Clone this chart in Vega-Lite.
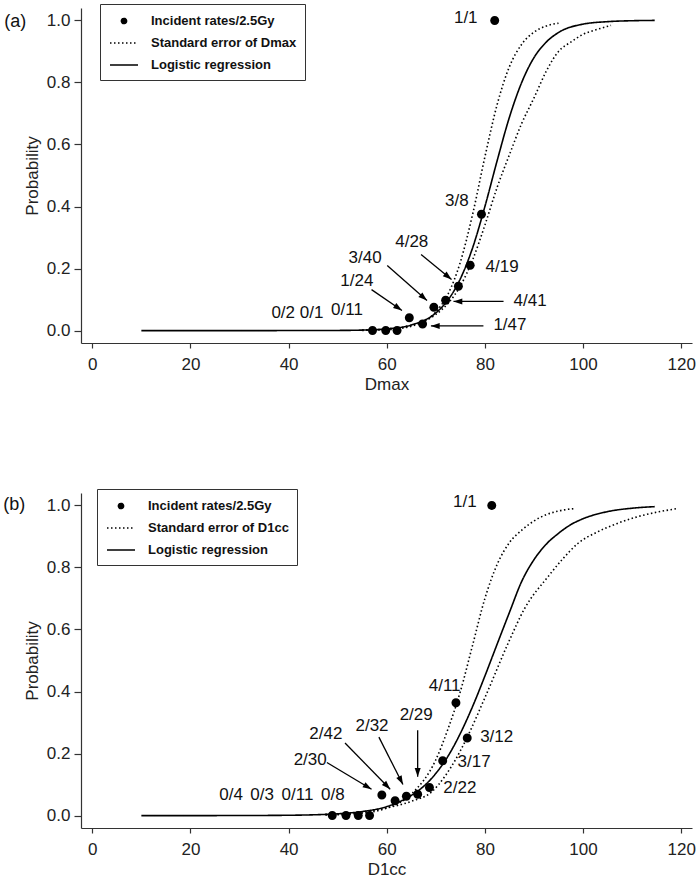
{
"$schema":"https://vega.github.io/schema/vega-lite/v6.json",
"padding":{"left":3,"top":3,"right":5,"bottom":2},
"background":"white",
"spacing":150,
"bounds":"flush",
"config":{
 "view":{"stroke":null},
 "font":"Liberation Sans",
 "axis":{"grid":false,"domainColor":"#333","domainWidth":1.2,"tickColor":"#333","tickWidth":1.2,"labelFont":"Liberation Sans","labelFontSize":17,"labelColor":"#222","titleFont":"Liberation Sans","titleFontSize":17,"titleFontWeight":"normal","titleColor":"#222"},
 "axisX":{"tickSize":5,"labelPadding":8,"titlePadding":4},
 "axisY":{"tickSize":7,"labelPadding":4,"titlePadding":5},
 "legend":{"title":null,"orient":"none","legendX":19,"legendY":-4,"padding":8,"strokeColor":"#333","fillColor":"white","labelFont":"Liberation Sans","labelFontSize":13,"labelFontWeight":"bold","labelColor":"#111","symbolOffset":7,"labelOffset":18,"rowPadding":6,"symbolSize":256,"symbolStrokeWidth":1.6,"symbolStrokeColor":"black","symbolFillColor":"black"}
},
"datasets":{
 "curvesA":[
  {"dose":10,"p":0,"curve":"fit","series":"Logistic regression"},
  {"dose":20,"p":0,"curve":"fit","series":"Logistic regression"},
  {"dose":30,"p":0,"curve":"fit","series":"Logistic regression"},
  {"dose":40,"p":0.0001,"curve":"fit","series":"Logistic regression"},
  {"dose":50,"p":0.0005,"curve":"fit","series":"Logistic regression"},
  {"dose":55,"p":0.0016,"curve":"fit","series":"Logistic regression"},
  {"dose":60,"p":0.0054,"curve":"fit","series":"Logistic regression"},
  {"dose":65,"p":0.018,"curve":"fit","series":"Logistic regression"},
  {"dose":70,"p":0.057,"curve":"fit","series":"Logistic regression"},
  {"dose":72.5,"p":0.099,"curve":"fit","series":"Logistic regression"},
  {"dose":75,"p":0.167,"curve":"fit","series":"Logistic regression"},
  {"dose":77.5,"p":0.267,"curve":"fit","series":"Logistic regression"},
  {"dose":80,"p":0.40,"curve":"fit","series":"Logistic regression"},
  {"dose":82.5,"p":0.548,"curve":"fit","series":"Logistic regression"},
  {"dose":85,"p":0.688,"curve":"fit","series":"Logistic regression"},
  {"dose":87.5,"p":0.80,"curve":"fit","series":"Logistic regression"},
  {"dose":90,"p":0.88,"curve":"fit","series":"Logistic regression"},
  {"dose":92.5,"p":0.93,"curve":"fit","series":"Logistic regression"},
  {"dose":95,"p":0.961,"curve":"fit","series":"Logistic regression"},
  {"dose":100,"p":0.988,"curve":"fit","series":"Logistic regression"},
  {"dose":105,"p":0.996,"curve":"fit","series":"Logistic regression"},
  {"dose":110,"p":0.999,"curve":"fit","series":"Logistic regression"},
  {"dose":114.6,"p":1.0,"curve":"fit","series":"Logistic regression"},
  {"dose":55,"p":0.0007,"curve":"upper","series":"Standard error of Dmax"},
  {"dose":60,"p":0.003,"curve":"upper","series":"Standard error of Dmax"},
  {"dose":65,"p":0.014,"curve":"upper","series":"Standard error of Dmax"},
  {"dose":70,"p":0.06,"curve":"upper","series":"Standard error of Dmax"},
  {"dose":72.5,"p":0.118,"curve":"upper","series":"Standard error of Dmax"},
  {"dose":75,"p":0.221,"curve":"upper","series":"Standard error of Dmax"},
  {"dose":77.5,"p":0.375,"curve":"upper","series":"Standard error of Dmax"},
  {"dose":80,"p":0.56,"curve":"upper","series":"Standard error of Dmax"},
  {"dose":82.5,"p":0.729,"curve":"upper","series":"Standard error of Dmax"},
  {"dose":85,"p":0.851,"curve":"upper","series":"Standard error of Dmax"},
  {"dose":87.5,"p":0.923,"curve":"upper","series":"Standard error of Dmax"},
  {"dose":90,"p":0.962,"curve":"upper","series":"Standard error of Dmax"},
  {"dose":92.5,"p":0.982,"curve":"upper","series":"Standard error of Dmax"},
  {"dose":95,"p":0.991,"curve":"upper","series":"Standard error of Dmax"},
  {"dose":55,"p":0.0019,"curve":"lower","series":"Standard error of Dmax"},
  {"dose":60,"p":0.0057,"curve":"lower","series":"Standard error of Dmax"},
  {"dose":65,"p":0.0175,"curve":"lower","series":"Standard error of Dmax"},
  {"dose":70,"p":0.052,"curve":"lower","series":"Standard error of Dmax"},
  {"dose":72.5,"p":0.088,"curve":"lower","series":"Standard error of Dmax"},
  {"dose":75,"p":0.144,"curve":"lower","series":"Standard error of Dmax"},
  {"dose":77.5,"p":0.228,"curve":"lower","series":"Standard error of Dmax"},
  {"dose":80,"p":0.34,"curve":"lower","series":"Standard error of Dmax"},
  {"dose":82.5,"p":0.462,"curve":"lower","series":"Standard error of Dmax"},
  {"dose":85,"p":0.567,"curve":"lower","series":"Standard error of Dmax"},
  {"dose":87.5,"p":0.668,"curve":"lower","series":"Standard error of Dmax"},
  {"dose":90,"p":0.75,"curve":"lower","series":"Standard error of Dmax"},
  {"dose":92.5,"p":0.836,"curve":"lower","series":"Standard error of Dmax"},
  {"dose":95,"p":0.9,"curve":"lower","series":"Standard error of Dmax"},
  {"dose":97.5,"p":0.93,"curve":"lower","series":"Standard error of Dmax"},
  {"dose":100,"p":0.955,"curve":"lower","series":"Standard error of Dmax"},
  {"dose":102.5,"p":0.969,"curve":"lower","series":"Standard error of Dmax"},
  {"dose":105.7,"p":0.984,"curve":"lower","series":"Standard error of Dmax"}
 ],
 "pointsA":[
  {"dose":57.1,"rate":0,"series":"Incident rates/2.5Gy"},
  {"dose":59.8,"rate":0,"series":"Incident rates/2.5Gy"},
  {"dose":62.1,"rate":0,"series":"Incident rates/2.5Gy"},
  {"dose":64.6,"rate":0.0417,"series":"Incident rates/2.5Gy"},
  {"dose":67.3,"rate":0.0213,"series":"Incident rates/2.5Gy"},
  {"dose":69.6,"rate":0.075,"series":"Incident rates/2.5Gy"},
  {"dose":72.0,"rate":0.0976,"series":"Incident rates/2.5Gy"},
  {"dose":74.6,"rate":0.1429,"series":"Incident rates/2.5Gy"},
  {"dose":77.0,"rate":0.2105,"series":"Incident rates/2.5Gy"},
  {"dose":79.3,"rate":0.375,"series":"Incident rates/2.5Gy"},
  {"dose":82.0,"rate":1.0,"series":"Incident rates/2.5Gy"}
 ],
 "labelsA":[
  {"x":38.9,"y":0.058,"text":"0/2"},
  {"x":44.7,"y":0.058,"text":"0/1"},
  {"x":51.9,"y":0.065,"text":"0/11"},
  {"x":53.9,"y":0.161,"text":"1/24"},
  {"x":55.6,"y":0.233,"text":"3/40"},
  {"x":65.1,"y":0.285,"text":"4/28"},
  {"x":74.3,"y":0.418,"text":"3/8"},
  {"x":76.1,"y":1.007,"text":"1/1"},
  {"x":83.5,"y":0.206,"text":"4/19"},
  {"x":89.2,"y":0.094,"text":"4/41"},
  {"x":85.1,"y":0.018,"text":"1/47"}
 ],
 "arrowsA":[
  {"x":56.9,"y":0.132,"x2":63.1,"y2":0.065},
  {"x":60.1,"y":0.21,"x2":68.2,"y2":0.097},
  {"x":67.0,"y":0.245,"x2":73.2,"y2":0.165},
  {"x":83.8,"y":0.094,"x2":73.6,"y2":0.094},
  {"x":79.7,"y":0.015,"x2":69.0,"y2":0.015}
 ],
 "tagA":[{"x":-15.7,"y":0.995,"text":"(a)"}],
 "curvesB":[
  {"dose":10,"p":0,"curve":"fit","series":"Logistic regression"},
  {"dose":20,"p":0,"curve":"fit","series":"Logistic regression"},
  {"dose":30,"p":0.0002,"curve":"fit","series":"Logistic regression"},
  {"dose":40,"p":0.0011,"curve":"fit","series":"Logistic regression"},
  {"dose":45,"p":0.0025,"curve":"fit","series":"Logistic regression"},
  {"dose":50,"p":0.0058,"curve":"fit","series":"Logistic regression"},
  {"dose":55,"p":0.013,"curve":"fit","series":"Logistic regression"},
  {"dose":60,"p":0.029,"curve":"fit","series":"Logistic regression"},
  {"dose":62.5,"p":0.044,"curve":"fit","series":"Logistic regression"},
  {"dose":65,"p":0.065,"curve":"fit","series":"Logistic regression"},
  {"dose":67.5,"p":0.094,"curve":"fit","series":"Logistic regression"},
  {"dose":70,"p":0.136,"curve":"fit","series":"Logistic regression"},
  {"dose":72.5,"p":0.192,"curve":"fit","series":"Logistic regression"},
  {"dose":75,"p":0.265,"curve":"fit","series":"Logistic regression"},
  {"dose":77.5,"p":0.352,"curve":"fit","series":"Logistic regression"},
  {"dose":80,"p":0.45,"curve":"fit","series":"Logistic regression"},
  {"dose":82.5,"p":0.553,"curve":"fit","series":"Logistic regression"},
  {"dose":85,"p":0.655,"curve":"fit","series":"Logistic regression"},
  {"dose":87.5,"p":0.755,"curve":"fit","series":"Logistic regression"},
  {"dose":90,"p":0.825,"curve":"fit","series":"Logistic regression"},
  {"dose":92.5,"p":0.875,"curve":"fit","series":"Logistic regression"},
  {"dose":95,"p":0.91,"curve":"fit","series":"Logistic regression"},
  {"dose":97.5,"p":0.938,"curve":"fit","series":"Logistic regression"},
  {"dose":100,"p":0.957,"curve":"fit","series":"Logistic regression"},
  {"dose":105,"p":0.98,"curve":"fit","series":"Logistic regression"},
  {"dose":110,"p":0.991,"curve":"fit","series":"Logistic regression"},
  {"dose":114.6,"p":0.996,"curve":"fit","series":"Logistic regression"},
  {"dose":47.5,"p":0.0017,"curve":"upper","series":"Standard error of D1cc"},
  {"dose":50,"p":0.0027,"curve":"upper","series":"Standard error of D1cc"},
  {"dose":55,"p":0.008,"curve":"upper","series":"Standard error of D1cc"},
  {"dose":60,"p":0.024,"curve":"upper","series":"Standard error of D1cc"},
  {"dose":65,"p":0.069,"curve":"upper","series":"Standard error of D1cc"},
  {"dose":70,"p":0.18,"curve":"upper","series":"Standard error of D1cc"},
  {"dose":72.5,"p":0.28,"curve":"upper","series":"Standard error of D1cc"},
  {"dose":75,"p":0.40,"curve":"upper","series":"Standard error of D1cc"},
  {"dose":77.5,"p":0.55,"curve":"upper","series":"Standard error of D1cc"},
  {"dose":80,"p":0.70,"curve":"upper","series":"Standard error of D1cc"},
  {"dose":82.5,"p":0.81,"curve":"upper","series":"Standard error of D1cc"},
  {"dose":85,"p":0.88,"curve":"upper","series":"Standard error of D1cc"},
  {"dose":87.5,"p":0.92,"curve":"upper","series":"Standard error of D1cc"},
  {"dose":90,"p":0.95,"curve":"upper","series":"Standard error of D1cc"},
  {"dose":92.5,"p":0.97,"curve":"upper","series":"Standard error of D1cc"},
  {"dose":95,"p":0.982,"curve":"upper","series":"Standard error of D1cc"},
  {"dose":98.4,"p":0.99,"curve":"upper","series":"Standard error of D1cc"},
  {"dose":47.5,"p":0.004,"curve":"lower","series":"Standard error of D1cc"},
  {"dose":50,"p":0.005,"curve":"lower","series":"Standard error of D1cc"},
  {"dose":55,"p":0.012,"curve":"lower","series":"Standard error of D1cc"},
  {"dose":60,"p":0.025,"curve":"lower","series":"Standard error of D1cc"},
  {"dose":65,"p":0.046,"curve":"lower","series":"Standard error of D1cc"},
  {"dose":69.2,"p":0.077,"curve":"lower","series":"Standard error of D1cc"},
  {"dose":72,"p":0.13,"curve":"lower","series":"Standard error of D1cc"},
  {"dose":74,"p":0.18,"curve":"lower","series":"Standard error of D1cc"},
  {"dose":76.4,"p":0.253,"curve":"lower","series":"Standard error of D1cc"},
  {"dose":80,"p":0.38,"curve":"lower","series":"Standard error of D1cc"},
  {"dose":84.8,"p":0.558,"curve":"lower","series":"Standard error of D1cc"},
  {"dose":88,"p":0.665,"curve":"lower","series":"Standard error of D1cc"},
  {"dose":92.9,"p":0.771,"curve":"lower","series":"Standard error of D1cc"},
  {"dose":96,"p":0.83,"curve":"lower","series":"Standard error of D1cc"},
  {"dose":99,"p":0.878,"curve":"lower","series":"Standard error of D1cc"},
  {"dose":103,"p":0.915,"curve":"lower","series":"Standard error of D1cc"},
  {"dose":107,"p":0.942,"curve":"lower","series":"Standard error of D1cc"},
  {"dose":111,"p":0.963,"curve":"lower","series":"Standard error of D1cc"},
  {"dose":115,"p":0.978,"curve":"lower","series":"Standard error of D1cc"},
  {"dose":119.3,"p":0.99,"curve":"lower","series":"Standard error of D1cc"}
 ],
 "pointsB":[
  {"dose":48.9,"rate":0,"series":"Incident rates/2.5Gy"},
  {"dose":51.7,"rate":0,"series":"Incident rates/2.5Gy"},
  {"dose":54.2,"rate":0,"series":"Incident rates/2.5Gy"},
  {"dose":56.5,"rate":0,"series":"Incident rates/2.5Gy"},
  {"dose":59.0,"rate":0.0667,"series":"Incident rates/2.5Gy"},
  {"dose":61.7,"rate":0.0476,"series":"Incident rates/2.5Gy"},
  {"dose":64.0,"rate":0.0625,"series":"Incident rates/2.5Gy"},
  {"dose":66.3,"rate":0.069,"series":"Incident rates/2.5Gy"},
  {"dose":68.7,"rate":0.0909,"series":"Incident rates/2.5Gy"},
  {"dose":71.4,"rate":0.1765,"series":"Incident rates/2.5Gy"},
  {"dose":74.1,"rate":0.3636,"series":"Incident rates/2.5Gy"},
  {"dose":76.4,"rate":0.25,"series":"Incident rates/2.5Gy"},
  {"dose":81.4,"rate":1.0,"series":"Incident rates/2.5Gy"}
 ],
 "labelsB":[
  {"x":28.3,"y":0.066,"text":"0/4"},
  {"x":34.6,"y":0.066,"text":"0/3"},
  {"x":41.8,"y":0.066,"text":"0/11"},
  {"x":49.0,"y":0.066,"text":"0/8"},
  {"x":44.4,"y":0.18,"text":"2/30"},
  {"x":47.6,"y":0.264,"text":"2/42"},
  {"x":57.0,"y":0.29,"text":"2/32"},
  {"x":66.0,"y":0.323,"text":"2/29"},
  {"x":74.9,"y":0.09,"text":"2/22"},
  {"x":77.8,"y":0.173,"text":"3/17"},
  {"x":82.4,"y":0.253,"text":"3/12"},
  {"x":71.8,"y":0.417,"text":"4/11"},
  {"x":75.9,"y":1.01,"text":"1/1"}
 ],
 "arrowsB":[
  {"x":47.8,"y":0.171,"x2":56.9,"y2":0.085},
  {"x":51.5,"y":0.234,"x2":60.7,"y2":0.085},
  {"x":58.4,"y":0.253,"x2":63.3,"y2":0.10},
  {"x":66.3,"y":0.275,"x2":66.3,"y2":0.125}
 ],
 "tagB":[{"x":-15.9,"y":1.0,"text":"(b)"}]
},
"vconcat":[
 {
  "width":611,"height":335,
  "layer":[
   {"data":{"name":"curvesA"},
    "mark":{"type":"line","color":"black","strokeWidth":1.6,"interpolate":"monotone"},
    "encoding":{
     "x":{"field":"dose","type":"quantitative","scale":{"domain":[-2.3,122.2],"nice":false,"zero":false},"axis":{"title":"Dmax","values":[0,20,40,60,80,100,120]}},
     "y":{"field":"p","type":"quantitative","scale":{"domain":[-0.04,1.04],"nice":false,"zero":false},"axis":{"title":"Probability","values":[0,0.2,0.4,0.6,0.8,1],"format":".1f"}},
     "detail":{"field":"curve"},
     "strokeDash":{"field":"series","type":"nominal","scale":{"domain":["Incident rates/2.5Gy","Standard error of Dmax","Logistic regression"],"range":[[1,0],[1.5,2.5],[1,0]]},
      "legend":{"encode":{"symbols":{"update":{"fill":{"value":"black"},"stroke":{"value":"black"}}}}}}
    }},
   {"data":{"name":"pointsA"},
    "mark":{"type":"point","filled":true,"color":"black","size":784,"opacity":1},
    "encoding":{
     "x":{"field":"dose","type":"quantitative"},
     "y":{"field":"rate","type":"quantitative"},
     "shape":{"field":"series","type":"nominal","scale":{"domain":["Incident rates/2.5Gy","Standard error of Dmax","Logistic regression"],"range":["M-0.32,0A0.32,0.32,0,1,0,0.32,0A0.32,0.32,0,1,0,-0.32,0Z","M-1.75,0H1.75","M-1.75,0H1.75"]},
      "legend":{"encode":{"symbols":{"update":{"fill":{"value":"black"},"stroke":{"value":"black"}}}}}}
    }},
   {"data":{"name":"arrowsA"},
    "mark":{"type":"rule","color":"black","strokeWidth":1.3},
    "encoding":{"x":{"field":"x","type":"quantitative"},"y":{"field":"y","type":"quantitative"},"x2":{"field":"x2"},"y2":{"field":"y2"}}},
   {"data":{"name":"arrowsA"},
    "transform":[{"calculate":"atan2((datum.x2 - datum.x) * 4.908, (datum.y2 - datum.y) * 310.2) * 180 / PI","as":"angle"}],
    "mark":{"type":"point","filled":true,"color":"black","size":64,"shape":"M0,0L0.75,2.2L-0.75,2.2Z","opacity":1,"strokeWidth":0},
    "encoding":{"x":{"field":"x2","type":"quantitative"},"y":{"field":"y2","type":"quantitative"},"angle":{"field":"angle","type":"quantitative","scale":null}}},
   {"data":{"name":"labelsA"},
    "mark":{"type":"text","fontSize":17,"color":"#111","align":"center","baseline":"middle","font":"Liberation Sans"},
    "encoding":{"x":{"field":"x","type":"quantitative"},"y":{"field":"y","type":"quantitative"},"text":{"field":"text"}}},
   {"data":{"name":"tagA"},
    "mark":{"type":"text","fontSize":18,"color":"#111","align":"center","baseline":"middle","font":"Liberation Sans"},
    "encoding":{"x":{"field":"x","type":"quantitative"},"y":{"field":"y","type":"quantitative"},"text":{"field":"text"}}}
  ]
 },
 {
  "width":611,"height":335,
  "layer":[
   {"data":{"name":"curvesB"},
    "mark":{"type":"line","color":"black","strokeWidth":1.6,"interpolate":"monotone"},
    "encoding":{
     "x":{"field":"dose","type":"quantitative","scale":{"domain":[-2.3,122.2],"nice":false,"zero":false},"axis":{"title":"D1cc","values":[0,20,40,60,80,100,120]}},
     "y":{"field":"p","type":"quantitative","scale":{"domain":[-0.04,1.04],"nice":false,"zero":false},"axis":{"title":"Probability","values":[0,0.2,0.4,0.6,0.8,1],"format":".1f"}},
     "detail":{"field":"curve"},
     "strokeDash":{"field":"series","type":"nominal","scale":{"domain":["Incident rates/2.5Gy","Standard error of D1cc","Logistic regression"],"range":[[1,0],[1.5,2.5],[1,0]]},
      "legend":{"legendX":16,"encode":{"symbols":{"update":{"fill":{"value":"black"},"stroke":{"value":"black"}}}}}}
    }},
   {"data":{"name":"pointsB"},
    "mark":{"type":"point","filled":true,"color":"black","size":784,"opacity":1},
    "encoding":{
     "x":{"field":"dose","type":"quantitative"},
     "y":{"field":"rate","type":"quantitative"},
     "shape":{"field":"series","type":"nominal","scale":{"domain":["Incident rates/2.5Gy","Standard error of D1cc","Logistic regression"],"range":["M-0.32,0A0.32,0.32,0,1,0,0.32,0A0.32,0.32,0,1,0,-0.32,0Z","M-1.75,0H1.75","M-1.75,0H1.75"]},
      "legend":{"legendX":16,"encode":{"symbols":{"update":{"fill":{"value":"black"},"stroke":{"value":"black"}}}}}}
    }},
   {"data":{"name":"arrowsB"},
    "mark":{"type":"rule","color":"black","strokeWidth":1.3},
    "encoding":{"x":{"field":"x","type":"quantitative"},"y":{"field":"y","type":"quantitative"},"x2":{"field":"x2"},"y2":{"field":"y2"}}},
   {"data":{"name":"arrowsB"},
    "transform":[{"calculate":"atan2((datum.x2 - datum.x) * 4.908, (datum.y2 - datum.y) * 310.2) * 180 / PI","as":"angle"}],
    "mark":{"type":"point","filled":true,"color":"black","size":64,"shape":"M0,0L0.75,2.2L-0.75,2.2Z","opacity":1,"strokeWidth":0},
    "encoding":{"x":{"field":"x2","type":"quantitative"},"y":{"field":"y2","type":"quantitative"},"angle":{"field":"angle","type":"quantitative","scale":null}}},
   {"data":{"name":"labelsB"},
    "mark":{"type":"text","fontSize":17,"color":"#111","align":"center","baseline":"middle","font":"Liberation Sans"},
    "encoding":{"x":{"field":"x","type":"quantitative"},"y":{"field":"y","type":"quantitative"},"text":{"field":"text"}}},
   {"data":{"name":"tagB"},
    "mark":{"type":"text","fontSize":18,"color":"#111","align":"center","baseline":"middle","font":"Liberation Sans"},
    "encoding":{"x":{"field":"x","type":"quantitative"},"y":{"field":"y","type":"quantitative"},"text":{"field":"text"}}}
  ]
 }
],
"resolve":{"scale":{"shape":"independent","strokeDash":"independent"},"legend":{"shape":"independent","strokeDash":"independent"}}
}
